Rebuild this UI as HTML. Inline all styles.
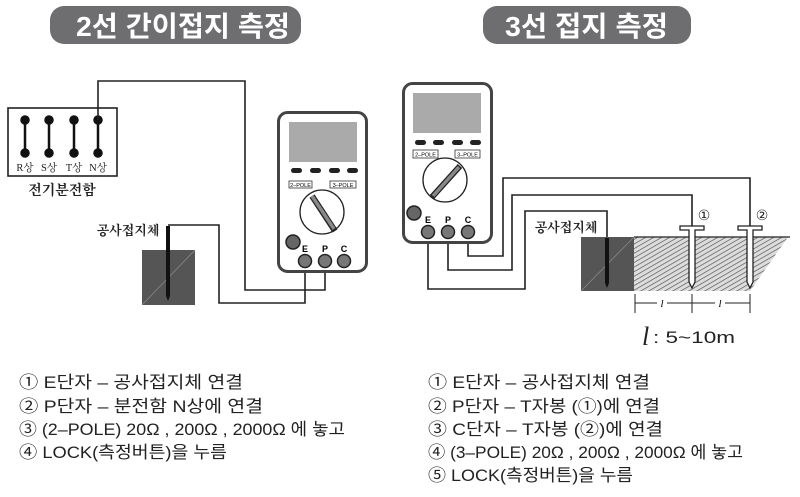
<!DOCTYPE html>
<html><head><meta charset="utf-8"><style>
html,body{margin:0;padding:0;background:#fff}
svg{display:block}
.t{font-family:"Liberation Sans","Noto Sans CJK KR",sans-serif;font-size:17px;fill:#222}
.s{font-family:"Liberation Serif","Noto Serif CJK SC",serif;fill:#222}
.w{fill:none;stroke:#222;stroke-width:1.6}
</style></head><body>
<svg width="800" height="497" viewBox="0 0 800 497" xmlns="http://www.w3.org/2000/svg">
<defs>
<pattern id="h" width="4" height="4" patternUnits="userSpaceOnUse" patternTransform="rotate(60)">
<rect width="4" height="4" fill="#ddd"/><line x1="0" y1="0" x2="0" y2="4" stroke="#555" stroke-width="1.4"/></pattern>
</defs>
<!-- titles -->
<rect x="50" y="6" width="251" height="38" rx="14" fill="#6e6e70"/>
<text x="76" y="36" textLength="214" lengthAdjust="spacingAndGlyphs" font-family="Liberation Sans,'Noto Sans CJK KR',sans-serif" font-weight="bold" font-size="28" fill="#fff">2선 간이접지 측정</text>
<rect x="483" y="6" width="208" height="38" rx="14" fill="#6e6e70"/>
<text x="505" y="36" textLength="163" lengthAdjust="spacingAndGlyphs" font-family="Liberation Sans,'Noto Sans CJK KR',sans-serif" font-weight="bold" font-size="28" fill="#fff">3선 접지 측정</text>

<!-- LEFT -->
<rect x="8" y="108" width="109" height="68" fill="#fff" stroke="#222" stroke-width="1.6"/>
<g stroke="#111" stroke-width="2.5" fill="#111">
<line x1="25" y1="120" x2="25" y2="153"/><circle cx="25" cy="120" r="3.5"/><circle cx="25" cy="153" r="3.5"/>
<line x1="49" y1="120" x2="49" y2="153"/><circle cx="49" cy="120" r="3.5"/><circle cx="49" cy="153" r="3.5"/>
<line x1="74" y1="120" x2="74" y2="153"/><circle cx="74" cy="120" r="3.5"/><circle cx="74" cy="153" r="3.5"/>
<line x1="98" y1="120" x2="98" y2="153"/><circle cx="98" cy="120" r="3.5"/><circle cx="98" cy="153" r="3.5"/>
</g>
<g class="s" font-size="10.5" text-anchor="middle">
<text x="25" y="171">R상</text><text x="49" y="171">S상</text><text x="74" y="171">T상</text><text x="98" y="171">N상</text>
</g>
<text class="s" x="62" y="195" font-size="14" font-weight="bold" text-anchor="middle">전기분전함</text>
<polyline class="w" points="98,120 98,81 245,81 245,290 325,290 325,262"/>
<polyline class="w" points="168,225 168,225 219,225 219,303 305,303 305,262"/>
<text class="s" x="128" y="235" font-size="13" font-weight="bold" text-anchor="middle">공사접지체</text>
<rect x="142" y="250" width="53" height="55" fill="#555"/>
<line x1="142" y1="305" x2="195" y2="250" stroke="#888" stroke-width="0.8"/>
<path d="M166,226 h4 v70 l-2,5 l-2,-5z" fill="#111"/>
<!-- meter left -->
<g transform="translate(277,111)">
<rect x="1.5" y="1.5" width="88" height="159" rx="9" fill="#fff" stroke="#444" stroke-width="3"/>
<rect x="12" y="11" width="68" height="40" fill="#aaa"/>
<g fill="#222"><rect x="14" y="57" width="11" height="5" rx="2.5"/><rect x="33" y="57" width="11" height="5" rx="2.5"/><rect x="52" y="57" width="11" height="5" rx="2.5"/><rect x="70" y="57" width="11" height="5" rx="2.5"/></g>
<rect x="12" y="70" width="23" height="7" fill="#fff" stroke="#333" stroke-width="0.8"/><text x="23.5" y="76" font-size="5.5" text-anchor="middle" font-family="Liberation Sans,sans-serif">2–POLE</text>
<rect x="53" y="70" width="26" height="7" fill="#fff" stroke="#333" stroke-width="0.8"/><text x="66" y="76" font-size="5.5" text-anchor="middle" font-family="Liberation Sans,sans-serif">3–POLE</text>
<circle cx="45" cy="101" r="22" fill="#fff" stroke="#222" stroke-width="1.3"/>
<line x1="35" y1="85" x2="58" y2="120" stroke="#222" stroke-width="6"/><line x1="35" y1="85" x2="57" y2="118" stroke="#888" stroke-width="3.5"/>
<circle cx="16" cy="131" r="7" fill="#666" stroke="#222" stroke-width="1.5"/>
<g font-family="Liberation Sans,sans-serif" font-size="9" font-weight="bold" text-anchor="middle"><text x="28" y="141">E</text><text x="48" y="141">P</text><text x="67" y="141">C</text></g>
<g fill="#777" stroke="#222" stroke-width="1.5"><circle cx="28" cy="150" r="6.5"/><circle cx="48" cy="150" r="6.5"/><circle cx="67" cy="150" r="6.5"/></g>
</g>

<!-- RIGHT -->
<polyline class="w" points="468,238 468,256 503,256 503,178 750,178 750,226"/>
<polyline class="w" points="448,238 448,270 512,270 512,195 692,195 692,226"/>
<polyline class="w" points="428,238 428,289 525,289 525,211 607,211 607,237"/>
<g transform="translate(402,82)">
<rect x="1.5" y="1.5" width="88" height="159" rx="9" fill="#fff" stroke="#444" stroke-width="3"/>
<rect x="11" y="11" width="68" height="40" fill="#aaa"/>
<g fill="#222"><rect x="13" y="58" width="11" height="5" rx="2.5"/><rect x="31" y="58" width="11" height="5" rx="2.5"/><rect x="50" y="58" width="11" height="5" rx="2.5"/><rect x="68" y="58" width="11" height="5" rx="2.5"/></g>
<rect x="11" y="68" width="25" height="8" fill="#fff" stroke="#333" stroke-width="0.8"/><text x="23.5" y="74.5" font-size="5.5" text-anchor="middle" font-family="Liberation Sans,sans-serif">2–POLE</text>
<rect x="53" y="68" width="25" height="8" fill="#fff" stroke="#333" stroke-width="0.8"/><text x="65.5" y="74.5" font-size="5.5" text-anchor="middle" font-family="Liberation Sans,sans-serif">3–POLE</text>
<circle cx="43" cy="98" r="22" fill="#fff" stroke="#222" stroke-width="1.3"/>
<line x1="58" y1="84" x2="30" y2="115" stroke="#222" stroke-width="6"/><line x1="57" y1="85" x2="31" y2="114" stroke="#888" stroke-width="3.5"/>
<circle cx="12" cy="131" r="7" fill="#666" stroke="#222" stroke-width="1.5"/>
<g font-family="Liberation Sans,sans-serif" font-size="9" font-weight="bold" text-anchor="middle"><text x="26" y="141">E</text><text x="46" y="141">P</text><text x="66" y="141">C</text></g>
<g fill="#777" stroke="#222" stroke-width="1.5"><circle cx="26" cy="150" r="6.5"/><circle cx="46" cy="150" r="6.5"/><circle cx="66" cy="150" r="6.5"/></g>
</g>
<text class="s" x="566" y="232" font-size="13" font-weight="bold" text-anchor="middle">공사접지체</text>
<path d="M634,237 L788,237 L750,291 L634,291z" fill="url(#h)"/>
<line x1="634" y1="237" x2="790" y2="237" stroke="#222" stroke-width="1.2"/>
<rect x="581" y="237" width="53" height="54" fill="#555"/>
<line x1="581" y1="291" x2="634" y2="237" stroke="#888" stroke-width="0.8"/>
<path d="M605,238 h4 v45 l-2,5 l-2,-5z" fill="#111"/>
<g fill="#fff" stroke="#222" stroke-width="1.3">
<path d="M680,226 h24 v4 h-9 v52 l-3,6 l-3,-6 v-52 h-9z"/>
<path d="M738,226 h24 v4 h-9 v52 l-3,6 l-3,-6 v-52 h-9z"/>
</g>
<text x="704" y="220" font-family="DejaVu Sans,sans-serif" font-size="14" fill="#222" text-anchor="middle">①</text>
<text x="762" y="220" font-family="DejaVu Sans,sans-serif" font-size="14" fill="#222" text-anchor="middle">②</text>
<g stroke="#222" stroke-width="1">
<line x1="635" y1="294" x2="635" y2="313"/><line x1="692" y1="294" x2="692" y2="313"/><line x1="750" y1="294" x2="750" y2="313"/>
<line x1="635" y1="303" x2="657" y2="303"/><line x1="667" y1="303" x2="715" y2="303"/><line x1="725" y1="303" x2="750" y2="303"/>
</g>
<text x="662" y="307" font-family="Liberation Serif,serif" font-style="italic" font-size="11" text-anchor="middle">l</text>
<text x="720" y="307" font-family="Liberation Serif,serif" font-style="italic" font-size="11" text-anchor="middle">l</text>
<text x="642" y="345" font-family="Liberation Serif,serif" font-style="italic" font-size="26" fill="#222">l</text>
<text x="653" y="343" textLength="82" lengthAdjust="spacingAndGlyphs" font-family="Liberation Sans,sans-serif" font-size="17" fill="#222">: 5~10m</text>

<!-- lists -->
<g class="t" lengthAdjust="spacingAndGlyphs">
<text x="19" y="388" textLength="224" lengthAdjust="spacingAndGlyphs">① E단자 – 공사접지체 연결</text>
<text x="19" y="412" textLength="244" lengthAdjust="spacingAndGlyphs">② P단자 – 분전함 N상에 연결</text>
<text x="19" y="435" textLength="326" lengthAdjust="spacingAndGlyphs">③ (2–POLE) 20Ω , 200Ω , 2000Ω 에 놓고</text>
<text x="19" y="458" textLength="208" lengthAdjust="spacingAndGlyphs">④ LOCK(측정버튼)을 누름</text>
<text x="428" y="388" textLength="222" lengthAdjust="spacingAndGlyphs">① E단자 – 공사접지체 연결</text>
<text x="428" y="412" textLength="232" lengthAdjust="spacingAndGlyphs">② P단자 – T자봉 (①)에 연결</text>
<text x="428" y="435" textLength="235" lengthAdjust="spacingAndGlyphs">③ C단자 – T자봉 (②)에 연결</text>
<text x="428" y="458" textLength="315" lengthAdjust="spacingAndGlyphs">④ (3–POLE) 20Ω , 200Ω , 2000Ω 에 놓고</text>
<text x="428" y="481" textLength="205" lengthAdjust="spacingAndGlyphs">⑤ LOCK(측정버튼)을 누름</text>
</g>
</svg>
</body></html>
